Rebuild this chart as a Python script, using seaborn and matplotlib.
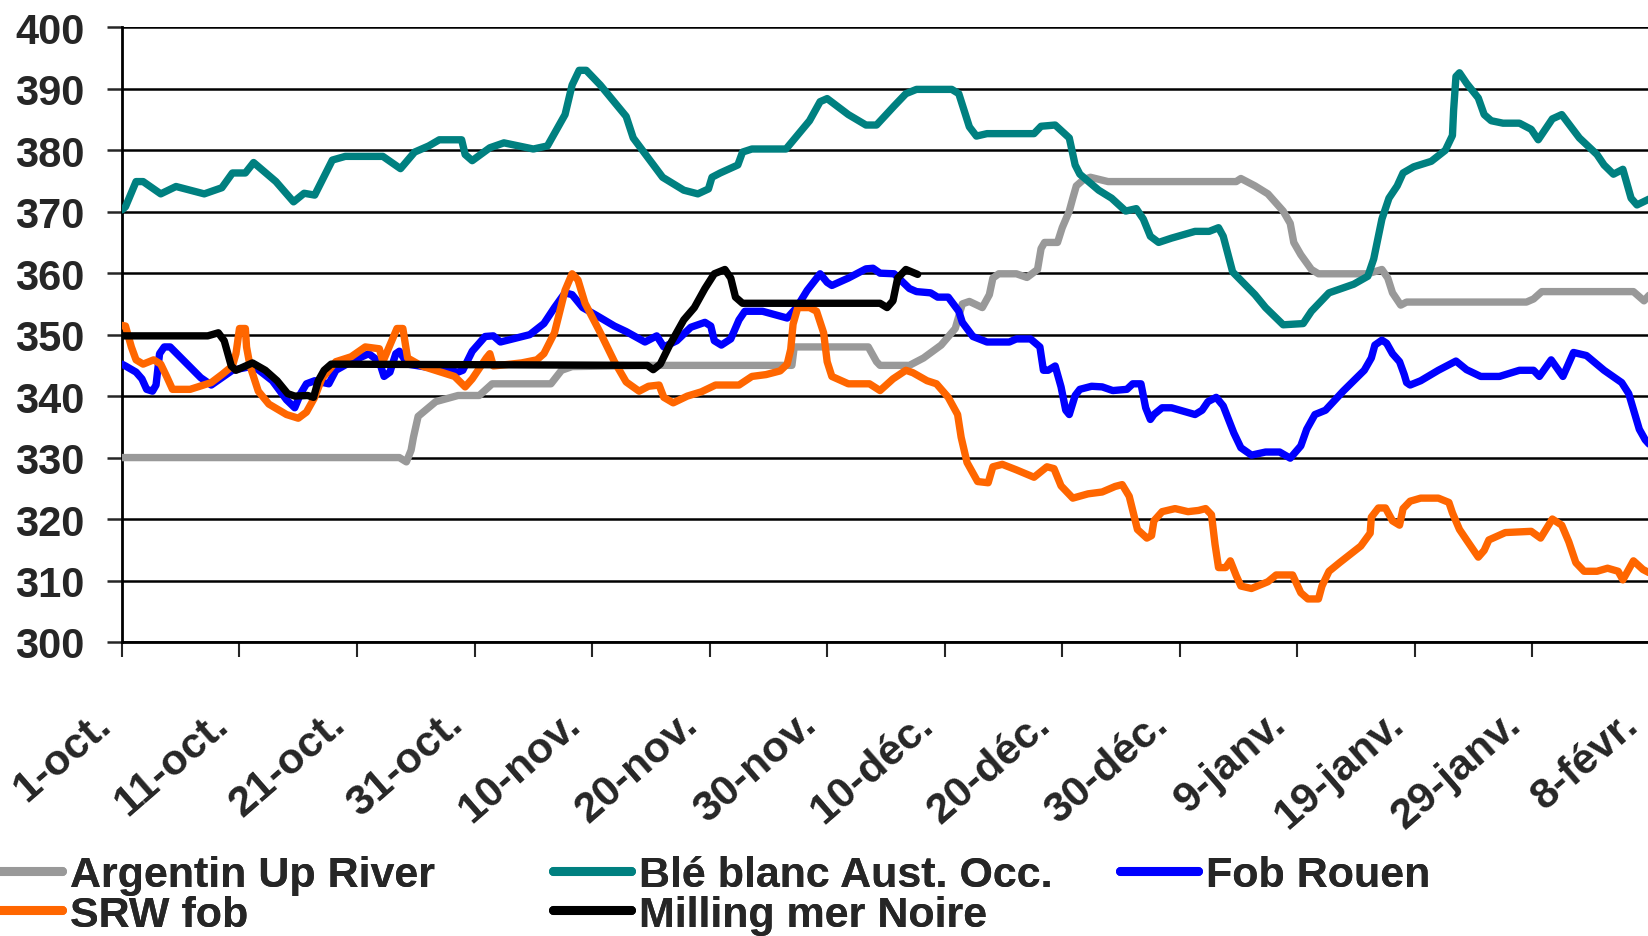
import matplotlib
matplotlib.use("Agg")
import matplotlib.pyplot as plt
import matplotlib.transforms as mtransforms
import seaborn as sns
import pandas as pd

sns.set_theme(style="white")
plt.rcParams["font.family"] = ["Liberation Sans", "DejaVu Sans"]
plt.rcParams["font.weight"] = "bold"

# ---- data (day index from 1-oct, price) ----
tick_days = [0, 10, 20, 30, 40, 50, 60, 70, 80, 90, 100, 110, 120, 130]
tick_labels = ["1-oct.", "11-oct.", "21-oct.", "31-oct.", "10-nov.", "20-nov.",
               "30-nov.", "10-déc.", "20-déc.", "30-déc.", "9-janv.", "19-janv.",
               "29-janv.", "8-févr."]

argentin_x = [0, 23.6, 24.2, 24.6, 24.8, 25.2, 26.7, 28.6, 30.4, 31.5, 36.5, 37.4, 38.3, 45, 57.0,
              57.2, 63.5, 64.2, 64.5, 67, 68.2, 69.7, 70.9, 71.5, 72.1, 73.2, 73.8, 74.1, 74.6, 76.1,
              77.0, 77.9, 78.2, 78.5, 79.6, 80.0, 80.6, 80.9, 81.2, 81.8, 82.4, 83.9, 94.8, 95.2,
              96.4, 97.5, 98.8, 99.4, 99.7, 100.3, 101.2, 101.8, 106.0, 107.2, 107.7, 108.1, 108.8,
              109.3, 119.5, 120.1, 120.8, 128.6, 129.5, 130.3]
argentin_y = [330, 330, 329.3, 331.2, 333.3, 336.7, 339.1, 340.1, 340.1, 342, 342, 344.2, 344.8, 345, 345,
              348, 348, 345.6, 345, 345, 346.2, 348.3, 351, 355, 355.4, 354.4, 356.5, 359.2, 359.9, 359.9,
              359.3, 360.6, 364, 365, 365, 367.4, 370.1, 372.2, 374.2, 375.2, 375.6, 374.9, 374.9, 375.4,
              374.2, 372.9, 370.1, 368.1, 365, 363, 360.6, 359.9, 359.9, 360.6, 359.2, 356.8, 354.8,
              355.3, 355.3, 355.8, 357, 357, 355.5, 357.2]

ble_x = [0, 0.3, 1.2, 1.8, 3.3, 4.6, 7.0, 8.5, 9.4, 10.5, 11.2, 13.1, 14.6, 15.5, 16.4, 17.9, 19.0,
         22.2, 23.7, 24.9, 26.1, 27.0, 28.9, 29.2, 29.8, 31.3, 32.5, 35.0, 36.2, 37.7, 38.3, 38.9,
         39.5, 40.7, 42.9, 43.5, 46.0, 47.8, 49.0, 49.9, 50.2, 50.9, 52.4, 52.8, 53.6, 56.5, 58.5,
         59.4, 60.0, 61.8, 63.3, 64.2, 65.7, 66.7, 67.6, 70.6, 71.2, 72.1, 72.7, 73.6, 77.6, 78.2,
         79.4, 80.6, 81.1, 81.5, 83.1, 84.2, 85.4, 86.3, 86.9, 87.5, 88.2, 89.3, 91.3, 92.5, 93.3,
         93.7, 94.5, 96.4, 97.3, 98.8, 100.5, 101.2, 102.7, 104.8, 106.0, 106.5, 107.2, 107.8, 108.5,
         109.0, 109.9, 111.4, 112.6, 113.2, 113.3, 113.5, 113.8, 114.4, 115.4, 115.9, 116.5, 117.5,
         118.9, 119.9, 120.5, 121.7, 122.5, 124.0, 125.5, 126.1, 126.9, 127.7, 128.4, 128.9, 130.3]
ble_y = [370.3, 370.8, 374.9, 374.9, 372.9, 374.1, 372.9, 373.9, 376.3, 376.3, 378, 374.9, 371.6, 373,
         372.7, 378.4, 379, 379, 377, 379.7, 380.7, 381.7, 381.7, 379.3, 378.3, 380.4, 381.2, 380.2,
         380.7, 385.8, 390.6, 393, 393, 390.6, 385.5, 382, 375.6, 373.5, 372.9, 373.7, 375.6, 376.3,
         377.6, 379.7, 380.2, 380.2, 384.8, 387.9, 388.4, 385.8, 384.1, 384.1, 387.2, 389.2, 389.9,
         389.9, 389.2, 383.8, 382.3, 382.7, 382.7, 383.9, 384.1, 382, 377.6, 376.1, 373.5, 372.2,
         370.1, 370.5, 368.8, 366, 365, 365.7, 366.8, 366.8, 367.4, 366, 360.2, 356.5, 354.4, 351.6,
         351.8, 353.8, 356.8, 358.2, 359.5, 362.3, 368.8, 372.2, 374.2, 376.3, 377.3, 378.2, 380,
         382.4, 386.5, 392, 392.6, 390.9, 388.5, 385.8, 384.8, 384.4, 384.4, 383.4, 381.7, 385.1,
         385.8, 382, 379.3, 377.6, 376.1, 376.9, 372.2, 371.1, 372.4]

rouen_x = [0, 0.3, 1.2, 1.7, 2.1, 2.6, 2.9, 3.2, 3.6, 4.1, 6.7, 7.6, 9.4, 11.2, 12.8, 14.0, 14.7, 15.2,
           15.7, 16.4, 17.6, 18.2, 19.5, 21.0, 21.9, 22.3, 22.8, 23.3, 23.6, 24.3, 28.6, 29.0, 29.8,
           30.4, 30.9, 31.6, 32.2, 34.7, 35.9, 36.8, 37.7, 38.3, 39.2, 40.4, 41.9, 42.9, 44.5, 45.5,
           46.1, 47.2, 48.4, 49.6, 50.1, 50.4, 51.0, 51.8, 52.5, 53.0, 54.5, 56.6, 57.4, 58.3, 59.4,
           60.0, 60.4, 61.8, 63.3, 63.9, 64.5, 65.7, 67.0, 67.6, 68.8, 69.4, 70.3, 71.2, 71.5, 72.4,
           73.6, 75.5, 76.1, 77.3, 78.1, 78.4, 78.8, 79.4, 79.9, 80.3, 80.6, 81.1, 81.5, 82.5, 83.4,
           84.3, 85.5, 86.0, 86.7, 87.1, 87.5, 87.8, 88.5, 89.3, 91.3, 91.9, 92.4, 93.1, 93.7, 94.6,
           95.2, 96.1, 97.3, 98.5, 99.4, 100.3, 100.8, 101.5, 102.4, 103.9, 105.7, 106.3, 106.6,
           107.2, 107.6, 108.1, 108.7, 109.1, 109.3, 109.6, 110.5, 112.0, 113.5, 114.4, 115.6, 117.2,
           118.9, 120.1, 120.6, 121.6, 122.6, 123.5, 124.6, 126.1, 127.6, 128.2, 129.1, 129.6, 130.3]
rouen_y = [345.2, 344.9, 343.9, 342.8, 341.1, 340.8, 341.8, 346.9, 348, 348, 343, 341.8, 344.2, 344.9,
           342.5, 339.4, 338.1, 340.4, 342, 342.5, 342, 344.2, 345.6, 346.9, 345.6, 343.2, 343.9,
           346.9, 347.3, 345.2, 343.9, 344.2, 347.3, 348.6, 349.7, 349.8, 348.8, 350, 351.8, 354.4,
           356.8, 356.5, 354.4, 353.1, 351.4, 350.5, 348.8, 349.8, 348, 349, 351.2, 352, 351.4, 349,
           348.3, 349.3, 352.4, 353.8, 353.8, 352.7, 354.4, 357.2, 359.9, 358.5, 358, 359.2, 360.7,
           360.8, 360, 359.9, 357.5, 357, 356.8, 356.1, 356.1, 353.8, 352, 349.7, 348.8, 348.8, 349.3,
           349.3, 348, 344.2, 344.2, 344.9, 341.5, 337.7, 337, 340.1, 341.1, 341.6, 341.5, 340.9,
           341.1, 342, 342, 338.1, 336.2, 337, 338.1, 338.1, 337, 337.7, 339.1, 339.8, 338.4, 334,
           331.6, 330.4, 330.9, 330.9, 329.9, 331.9, 334.6, 337, 337.7, 340.8, 344.2, 346.2, 348.3,
           349.1, 348.6, 346.9, 345.6, 343.5, 342.2, 341.8, 342.5, 344.2, 345.7, 344.3, 343.2, 343.2,
           344.2, 344.2, 343.2, 345.9, 343.2, 347.1, 346.6, 344.2, 342.2, 340.4, 334.6, 332.9, 331.4]

srw_x = [0, 0.3, 0.8, 1.2, 1.8, 2.7, 3.3, 3.8, 4.3, 5.8, 7.6, 8.5, 9.4, 9.7, 10.0, 10.5, 10.6, 10.9,
         11.6, 12.5, 14.0, 15.0, 15.7, 16.4, 17.0, 18.2, 19.5, 20.7, 21.9, 22.2, 22.8, 23.4, 23.9,
         24.3, 25.5, 28.3, 29.2, 29.8, 31.0, 31.3, 31.6, 34.0, 35.3, 35.9, 36.8, 37.7, 38.3, 38.8,
         39.4, 40.7, 41.9, 42.9, 44.0, 44.8, 45.7, 46.1, 46.9, 48.1, 49.3, 50.5, 52.5, 53.6, 54.8,
         56.0, 56.6, 56.9, 57.1, 57.5, 58.5, 59.1, 59.7, 60.0, 60.4, 61.8, 63.6, 64.5, 65.6, 66.7,
         67.3, 68.5, 69.3, 70.3, 71.1, 71.4, 71.9, 72.8, 73.7, 74.1, 74.9, 76.1, 77.6, 78.7, 79.3,
         79.9, 80.9, 82.2, 83.4, 84.5, 85.1, 85.7, 86.0, 86.4, 87.2, 87.6, 87.8, 88.5, 89.6, 90.7,
         91.6, 92.2, 92.7, 93.0, 93.3, 93.9, 94.3, 94.8, 95.2, 96.1, 97.5, 98.2, 99.6, 100.3, 100.9,
         101.8, 102.1, 102.7, 103.6, 105.4, 106.2, 106.3, 106.9, 107.5, 108.1, 108.7, 109.0, 109.6,
         110.5, 112.0, 112.9, 113.2, 113.8, 114.4, 115.4, 115.9, 116.3, 117.7, 119.9, 120.7, 121.7,
         122.5, 123.1, 123.7, 124.4, 125.5, 126.4, 127.3, 127.7, 128.6, 129.4, 130.3]
srw_y = [351.5, 351.4, 348, 345.9, 345.2, 345.9, 345.2, 343.2, 341.1, 341.1, 342.2, 343.5, 344.9, 346.9,
         351, 351, 348, 344.9, 340.8, 338.7, 337, 336.4, 337.4, 339.8, 342.8, 345.6, 346.4, 348,
         347.7, 345.6, 348.3, 351, 351, 346.2, 344.9, 343.2, 341.5, 342.8, 346.2, 346.9, 344.9, 345.4,
         345.9, 346.9, 350.3, 357.2, 359.9, 358.9, 355.1, 350.3, 345.6, 342.3, 340.8, 341.6, 341.8,
         339.8, 338.9, 340, 340.7, 341.8, 341.8, 343.2, 343.5, 344.1, 345.2, 347.6, 351.7, 354.4,
         354.4, 353.8, 350.3, 345.6, 343.2, 342, 342, 340.9, 342.8, 344.2, 343.8, 342.5, 342, 339.8,
         337, 333.3, 329.2, 326.1, 325.9, 328.5, 328.9, 328, 326.8, 328.5, 328.2, 325.4, 323.4, 324.1,
         324.4, 325.3, 325.6, 323.7, 321.4, 318.3, 316.9, 317.3, 319.7, 321.2, 321.7, 321.2, 321.4,
         321.7, 320.7, 315.9, 312.1, 312.1, 313.2, 310.8, 309.1, 308.7, 309.8, 310.9, 310.9, 308,
         307, 307, 309.1, 311.5, 312.9, 315.6, 317.7, 320.3, 321.8, 321.8, 319.7, 319, 321.7, 322.9,
         323.4, 323.4, 322.7, 321, 318.3, 316.6, 313.8, 314.9, 316.6, 317.8, 318, 316.9, 320, 319,
         316.3, 312.9, 311.5, 311.5, 312, 311.5, 310.1, 313.2, 311.8, 310.9]

milling_x = [0, 7.3, 8.2, 8.7, 9.3, 9.7, 11.1, 12.2, 13.2, 14.1, 14.7, 15.8, 16.3, 16.7, 17.2, 17.8,
             44.7, 45.2, 45.8, 46.6, 47.8, 48.7, 49.6, 50.4, 51.3, 51.8, 52.2, 52.8, 64.5, 65.1,
             65.6, 66.0, 66.7, 67.7]
milling_y = [349.8, 349.8, 350.3, 349, 344.9, 344.2, 345.4, 344.2, 342.5, 340.4, 340, 340.1, 339.8,
             342.5, 344.2, 345.2, 345, 344.3, 345.2, 348.3, 352.4, 354.4, 357.5, 359.9, 360.6, 359.2,
             356.1, 355.1, 355.1, 354.4, 355.5, 359.2, 360.6, 359.8]

series = [
    ("Argentin Up River", argentin_x, argentin_y, "#999999"),
    ("Blé blanc Aust. Occ.", ble_x, ble_y, "#008080"),
    ("Fob Rouen", rouen_x, rouen_y, "#0000FF"),
    ("SRW fob", srw_x, srw_y, "#FF6600"),
    ("Milling mer Noire", milling_x, milling_y, "#000000"),
]

frames = []
for name, xs, ys, _ in series:
    frames.append(pd.DataFrame({"day": xs, "price": ys, "serie": name}))
df = pd.concat(frames, ignore_index=True)

fig = plt.figure(figsize=(16.48, 9.37), dpi=100)
ax = fig.add_axes([0.074, 0.3138, 0.93, 0.656])

for y in range(300, 401, 10):
    ax.axhline(y, color="black", lw=1.8, zorder=1)

lines = {}
for name, xs, ys, col in series:
    sub = df[df["serie"] == name]
    sns.lineplot(data=sub, x="day", y="price", color=col, lw=5.3, ax=ax,
                 sort=False, estimator=None, legend=False, zorder=3,
                 solid_joinstyle="round", solid_capstyle="round")
    lines[name] = ax.lines[-1]

ax.set_xlim(0, 130.4)
ax.set_ylim(300, 400)
ax.set_xlabel("")
ax.set_ylabel("")
ax.set_yticks(range(300, 401, 10))
ax.set_xticks(tick_days)
ax.set_xticklabels(tick_labels, rotation=41, ha="right", va="top",
                   rotation_mode="anchor", fontsize=31, fontweight="bold")
ax.tick_params(axis="y", labelsize=30, length=11, width=1.8, pad=16, direction="out", left=True)
ax.tick_params(axis="x", length=11, width=1.5, pad=33, direction="out", bottom=True)
for lab in ax.get_yticklabels():
    lab.set_fontweight("bold")

# shift the slanted date labels a little to the left, as in the original
shift = mtransforms.ScaledTranslation(-30 / 100, 0, fig.dpi_scale_trans)
for lab in ax.get_xticklabels():
    lab.set_transform(lab.get_transform() + shift)

for s in ["top", "right"]:
    ax.spines[s].set_visible(False)
for s in ["left", "bottom"]:
    ax.spines[s].set_color("black")
    ax.spines[s].set_linewidth(2)

# legend in three fixed columns like the Excel original
cols = [
    (["Argentin Up River", "SRW fob"], -16 / 1648),
    (["Blé blanc Aust. Occ.", "Milling mer Noire"], 553 / 1648),
    (["Fob Rouen"], 1120 / 1648),
]
for names, x0 in cols:
    leg = fig.legend([lines[n] for n in names], names, loc="upper left",
                     bbox_to_anchor=(x0, 0.086), frameon=False, fontsize=31,
                     handlelength=1.8, handletextpad=0.2, labelspacing=-0.02,
                     borderpad=0, borderaxespad=0)
    for t in leg.get_texts():
        t.set_fontweight("bold")
    for h in leg.legend_handles:
        h.set_linewidth(6.5)
    fig.add_artist(leg)

fig.savefig("out.png", dpi=100)
